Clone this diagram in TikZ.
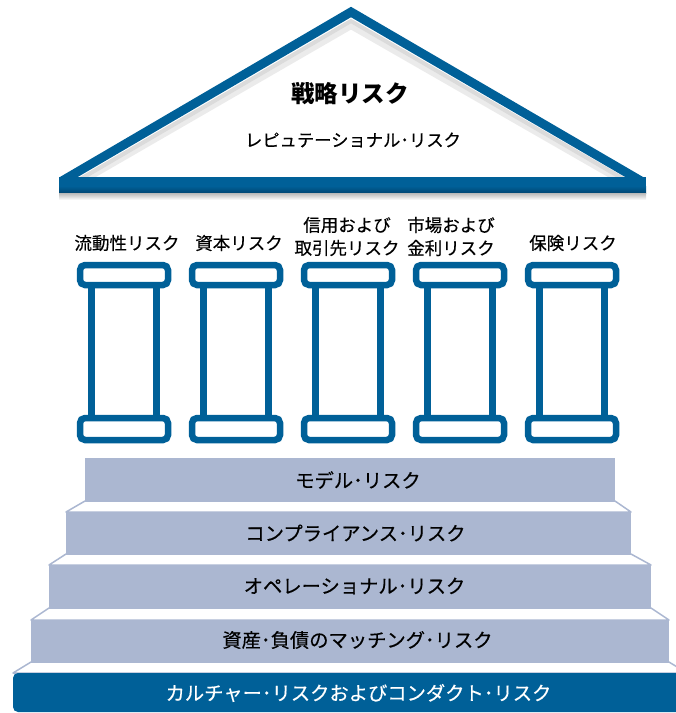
\documentclass[tikz,border=0pt]{standalone}
\usepackage{fontspec}
\setmainfont{Noto Sans CJK JP}[UprightFeatures={FakeBold=0.4}]
\definecolor{rblue}{RGB}{0,96,152}
\definecolor{rdark}{RGB}{0,70,115}
\definecolor{stepc}{RGB}{171,183,209}
\begin{document}
\begin{tikzpicture}[x=1pt,y=-1pt,
  lbl/.style={font=\fontsize{17.5}{23}\selectfont, align=center, inner sep=0pt},
  steptxt/.style={font=\fontsize{19.3}{22}\selectfont, inner sep=0pt},
  stepbox/.style={fill=stepc},
  band/.style={fill=white, draw=stepc, line width=1.5pt, line join=round},
  pil/.style={draw=rblue, line width=6.5pt, fill=white}]
\useasboundingbox (0,0) rectangle (676,713);

% roof
\draw[black!8, line width=8pt, line join=miter] (74,185) -- (351,25) -- (630,185);
\draw[black!14, line width=4pt, line join=miter] (72,184) -- (351,21) -- (632,184);
\draw[rblue, line width=9pt, line join=miter] (62,181) -- (351,12) -- (641,181);
\fill[rblue] (59,177) rectangle (646,187);
\shade[top color=rblue, bottom color=rdark] (59,186) rectangle (646,193);
\shade[top color=black!28, bottom color=white] (59,193) rectangle (646,200);
\node[font=\fontsize{23.5}{26}\selectfont\bfseries, inner sep=0pt] (title) at (350,94) {戦略リスク};
\node[font=\fontsize{17.3}{20}\selectfont, inner sep=0pt] (rep) at (353,140) {レピュテーショナル･リスク};

% pillars
\foreach \c in {124,236,348,460,572}{
  \draw[pil] ({\c-32.5},285) rectangle ({\c+32.5},418);
  \draw[pil, rounded corners=5pt] ({\c-44},265) rectangle ({\c+44},285);
  \draw[pil, rounded corners=5pt] ({\c-44},418) rectangle ({\c+44},440);
}
\node[lbl] (l1) at (127,243) {流動性リスク};
\node[lbl] (l2) at (239,243) {資本リスク};
\node[lbl] (l3) at (347,236.5) {信用および\\取引先リスク};
\node[lbl] (l4) at (451,236.5) {市場および\\金利リスク};
\node[lbl] (l5) at (573,243) {保険リスク};

% steps
\fill[stepbox] (85,458) rectangle (615,501);
\draw[band] (85,501) -- (615,501) -- (631,512) -- (66,512) -- cycle;
\fill[stepbox] (66,512) rectangle (631,554);
\draw[band] (66,554) -- (631,554) -- (651,565) -- (49,565) -- cycle;
\fill[stepbox] (49,565) rectangle (651,608);
\draw[band] (49,608) -- (651,608) -- (669,620) -- (31,620) -- cycle;
\fill[stepbox] (31,620) rectangle (669,662);
\draw[band] (31,662) -- (669,662) -- (687,673) -- (13,673) -- cycle;
\fill[rblue, rounded corners=5pt] (13,673) rectangle (689,712);

\node[steptxt] (s1) at (358,480) {モデル･リスク};
\node[steptxt] (s2) at (355.5,533) {コンプライアンス･リスク};
\node[steptxt] (s3) at (354.5,586) {オペレーショナル･リスク};
\node[steptxt] (s4) at (357.5,640) {資産･負債のマッチング･リスク};
\node[steptxt, text=white] (s5) at (358.5,693) {カルチャー･リスクおよびコンダクト･リスク};
\end{tikzpicture}
\end{document}
